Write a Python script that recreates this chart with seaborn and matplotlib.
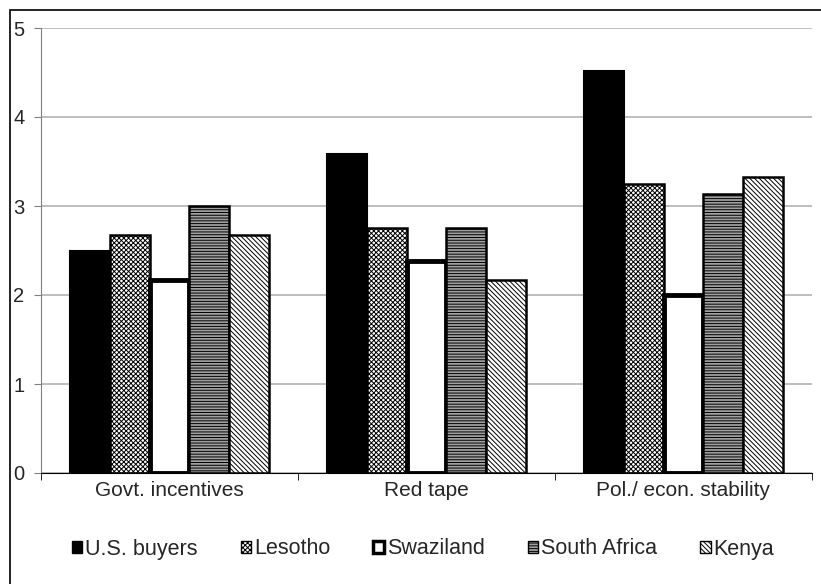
import matplotlib
matplotlib.use("Agg")
import matplotlib.pyplot as plt
from matplotlib.patches import Rectangle
import pandas as pd
import seaborn as sns

factors = ["Govt. incentives", "Red tape", "Pol./ econ. stability"]
groups = ["U.S. buyers", "Lesotho", "Swaziland", "South Africa", "Kenya"]
us_buyers = [2.50, 3.58, 4.52]
lesotho = [2.67, 2.75, 3.25]
swaziland = [2.17, 2.38, 2.00]
south_africa = [3.00, 2.75, 3.13]
kenya = [2.67, 2.17, 3.33]

series = [us_buyers, lesotho, swaziland, south_africa, kenya]
df = pd.DataFrame({
    "factor": [f for s in series for f in factors],
    "group": [g for g, s in zip(groups, series) for _ in factors],
    "score": [v for s in series for v in s],
})

sns.set_style("white")
plt.rcParams["font.family"] = ["Liberation Sans", "DejaVu Sans"]
plt.rcParams["hatch.linewidth"] = 0.7

fills = ["black", "white", "white", "#a0a0a0", "white"]
hatches = [None, "xxxxxxx", None, "------", "\\\\\\\\\\\\\\"]
lws = [1.5, 1.8, 3.5, 1.8, 1.8]

fig = plt.figure(figsize=(8.21, 5.84), dpi=100)
ax = fig.add_axes([41/821, 111/584, 771/821, 445/584])

sns.barplot(data=df, x="factor", y="score", hue="group", order=factors,
            hue_order=groups, palette=fills, width=0.775, edgecolor="black",
            linewidth=1.5, saturation=1, ax=ax, legend=False)

for cont, h, lw in zip(ax.containers, hatches, lws):
    for bar in cont:
        bar.set_linewidth(lw)
        if h:
            bar.set_hatch(h)

ax.set_ylim(0, 5)
ax.set_xlim(-0.5, 2.5)
ax.set_yticks([0, 1, 2, 3, 4, 5])
ax.yaxis.grid(True, color="#b3b3b3", linewidth=1.2)
ax.set_axisbelow(True)
ax.set_xlabel("")
ax.set_ylabel("")
sns.despine(ax=ax)
ax.spines["left"].set_color("#808080")
ax.spines["bottom"].set_color("black")
ax.tick_params(axis="y", direction="out", length=5, color="#808080",
               labelsize=14.5, pad=7, left=True)
ax.tick_params(axis="x", which="major", length=0, labelsize=15, pad=6)
ax.set_xticks([-0.5, 0.5, 1.5, 2.5], minor=True)
ax.tick_params(axis="x", which="minor", direction="out", length=5,
               color="black", bottom=True)

# legend
handles = [Rectangle((0, 0), 1, 1, facecolor=f, edgecolor="black",
                     hatch=h, linewidth=lw)
           for f, h, lw in zip(fills, hatches, [1, 1, 2.5, 1, 1])]
fig.legend(handles, groups, loc="center", bbox_to_anchor=(0.515, (584-549)/584),
           bbox_transform=fig.transFigure, ncol=5, frameon=False,
           fontsize=15.5, handlelength=0.5, handleheight=0.5,
           handletextpad=0.12, columnspacing=2.0)

# outer frame
fig.add_artist(Rectangle((10/821, -0.1), 1.2, (584-10)/584 + 0.1,
                         transform=fig.transFigure, fill=False,
                         edgecolor="black", linewidth=1.2))

fig.savefig("out.png", dpi=100)
